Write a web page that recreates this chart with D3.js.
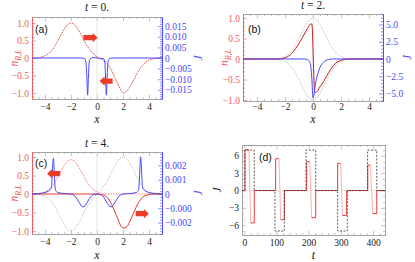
<!DOCTYPE html>
<html>
<head>
<meta charset="utf-8">
<script src="https://cdn.jsdelivr.net/npm/d3@7"></script>
<style>
body { margin: 0; background: #fff; }
text { font-family: "Liberation Serif", "Times New Roman", serif; }
</style>
</head>
<body>
<svg id="fig" width="415" height="262"></svg>
<script>
//////////////////////////////////////////////////////////////////////////////
// Data

var grid = [-5,-4.75,-4.5,-4.25,-4,-3.75,-3.5,-3.25,-3,-2.75,-2.5,-2.25,-2,-1.75,-1.5,-1.25,-1,-0.75,-0.5,-0.25,
            0,0.25,0.5,0.75,1,1.25,1.5,1.75,2,2.25,2.5,2.75,3,3.25,3.5,3.75,4,4.25,4.5,4.75,5];

// (a) t = 0
var aN = [0,0,0.01,0.03,0.06,0.12,0.21,0.34,0.5,0.68,0.84,0.96,1,0.96,0.84,0.68,0.5,0.34,0.21,0.11,
          0.03,-0.02,-0.06,-0.14,-0.27,-0.45,-0.66,-0.86,-1,-0.96,-0.84,-0.68,-0.5,-0.34,-0.21,-0.12,-0.06,-0.03,-0.01,0,0];
var aJx = [-5,-1.2,-0.95,-0.85,-0.78,-0.72,-0.66,-0.6,-0.5,-0.3,0,0.3,0.5,0.6,0.66,0.72,0.78,0.85,0.95,1.2,5];
var aJ  = [0,0,-0.0003,-0.002,-0.009,-0.0175,-0.009,-0.002,-0.0003,0.0002,0,-0.0002,-0.0003,-0.002,-0.009,-0.0175,-0.009,-0.002,-0.0003,0,0];

// (b) t = 2
var bNx = [-5,-2.5,-2.25,-2,-1.75,-1.5,-1.25,-1,-0.75,-0.5,-0.3,-0.15,-0.08,0.12,0.2,0.35,0.5,0.75,1,1.25,1.5,1.75,2,2.25,2.5,5];
var bN  = [0,0,0.01,0.03,0.07,0.14,0.25,0.38,0.53,0.68,0.8,0.86,0.85,-0.8,-0.82,-0.76,-0.68,-0.55,-0.4,-0.26,-0.14,-0.07,-0.03,-0.01,0,0];
var bGray = [0,0,0,0,0,0,0,0,0,0.005,0.01,0.03,0.06,0.12,0.21,0.34,0.5,0.68,0.84,0.96,
             1,0.96,0.84,0.68,0.5,0.34,0.21,0.12,0.06,0.03,0.01,0.005,0,0,0,0,0,0,0,0,0];
var bJx = [-5,-0.6,-0.4,-0.25,-0.15,-0.08,0,0.08,0.2,0.35,0.5,0.65,0.85,1.1,1.4,5];
var bJ  = [0,0,-0.1,-0.4,-1.2,-3,-5.6,-5.0,-3.3,-2.1,-1.2,-0.7,-0.3,-0.08,0,0];

// (c) t = 4
var cNleft  = [0,0.005,0.01,0.03,0.06,0.11,0.2,0.31,0.47,0.63,0.78,0.89,0.93,0.89,0.78,0.63,0.47,0.31,0.2,0.11,
               0.06,0.03,0.01,0,0,0,0,0,0,0,0,0,0,0,0,0,0,0,0,0,0];
var cNright = [0,0,0,0,0,0,0,0,0,0,0,0,0,0,0,0,0,0,0,0,
               0,-0.01,-0.03,-0.08,-0.2,-0.38,-0.58,-0.8,-0.92,-0.9,-0.76,-0.56,-0.36,-0.2,-0.09,-0.04,-0.01,0,0,0,0];
var cGray = [0,-0.005,-0.01,-0.03,-0.06,-0.12,-0.21,-0.34,-0.5,-0.68,-0.84,-0.96,-1,-0.96,-0.84,-0.68,-0.5,-0.34,-0.21,-0.09,
             0,0.09,0.21,0.34,0.5,0.68,0.84,0.96,1,0.96,0.84,0.68,0.5,0.34,0.21,0.12,0.06,0.03,0.01,0.005,0];
var cJx = [-5,-4.5,-4,-3.75,-3.6,-3.5,-3.45,-3.4,-3.35,-3.3,-3.25,-3.2,-3.1,-3,-2.5,-2,-1.75,-1.5,-1.3,-1.1,-0.9,-0.7,-0.5,-0.3,
           0,0.3,0.5,0.7,0.9,1.1,1.3,1.5,1.75,2,2.5,3,3.1,3.2,3.25,3.3,3.35,3.4,3.45,3.5,3.6,3.75,4,4.5,5];
var cJ  = [0,0.00003,0.0001,0.0002,0.0003,0.0005,0.0012,0.0022,0.0025,0.0018,0.0008,0.0003,0.00015,0.0001,0.00003,0,-0.0001,-0.0004,-0.0007,-0.0009,-0.0008,-0.0005,-0.0002,-0.00005,
           0,-0.00005,-0.0002,-0.0005,-0.0008,-0.0009,-0.0007,-0.0004,-0.0001,0,0.00003,0.0001,0.00015,0.0003,0.0008,0.0018,0.0026,0.0022,0.0012,0.0005,0.0003,0.0002,0.0001,0.00003,0];

// (d) J(t)
var dT  = [-8,0,2,2,14.5,19.7,31,31,97.4,97.4,107.8,113,124.4,124.4,193.8,193.8,203.1,209.3,221.8,221.8,
           290,290,299.5,304.7,318,318,383.4,383.4,391.7,399,411.4,411.4,440];
var dJ  = [0,0,0,7.05,7.05,-5.6,-5.6,0,0,5.5,5.5,-5.06,-5.06,0,0,5.0,5.0,-4.7,-4.7,0,
           0,4.7,4.7,-4.3,-4.3,0,0,4.4,4.4,-4.0,-4.0,0,0];
var dTd = [-8,2,2,31,31,95.3,95.3,124.4,124.4,191.7,191.7,221.8,221.8,290,290,320,320,383,383,411.4,411.4,440];
var dJd = [0,0,7,7,0,0,-7,-7,0,0,7,7,0,0,-7,-7,0,0,7,7,0,0];

// tick values and labels
var xTicks = [-4,-2,0,2,4];
var nTicks = [-1,-0.5,0,0.5,1];
var nLabels = ["\u22121.0","\u22120.5","0","0.5","1.0"];
var aJTicks = [-0.015,-0.01,-0.005,0,0.005,0.01,0.015];
var aJLabels = ["\u22120.015","\u22120.010","\u22120.005","0","0.005","0.010","0.015"];
var bJTicks = [-5,-2.5,0,2.5,5];
var bJLabels = ["\u22125.0","\u22122.5","0","2.5","5.0"];
var cJTicks = [-0.002,-0.001,0,0.001,0.002];
var cJLabels = ["\u22120.002","\u22120.000","0","0.001","0.002"];
var dJTicks = [-6,-3,0,3,6];
var dJLabels = ["\u22126","\u22123","0","3","6"];
var dTTicks = [0,100,200,300,400];

// arrows: [x from, x to, y, direction]
var aArrows = [[-1.05,0.05,0.58,1],[0.2,1.2,-0.66,-1]];
var cArrows = [[-3.84,-2.83,0.55,-1],[2.98,3.99,-0.53,1]];

//////////////////////////////////////////////////////////////////////////////

var RED = "#f05a5a", BLUE = "#4646ff", GRAY = "#a0a0a0";
var svg = d3.select("#fig");

function zip(xs, ys) { return xs.map(function(x, i) { return [x, ys[i]]; }); }

function ticksBetween(dom, step, skip) {
    var out = [];
    var s = Math.ceil(dom[0] / step - 1e-9), e = Math.floor(dom[1] / step + 1e-9);
    for (var i = s; i <= e; i++) {
        var v = +(i * step).toFixed(6);
        if (skip.every(function(k) { return Math.abs(k - v) > 1e-9; })) out.push(v);
    }
    return out;
}

function axisSet(g, axisFn, scale, major, labels, minorStep, color, labelColor, pos, noLabels) {
    var maj = axisFn(scale).tickValues(major).tickSize(-4).tickSizeOuter(0).tickPadding(pos.pad)
        .tickFormat(function(d, i) { return noLabels ? "" : labels[i]; });
    var mi = axisFn(scale).tickValues(ticksBetween(scale.domain(), minorStep, major))
        .tickSize(-2).tickSizeOuter(0).tickFormat("");
    var a = g.append("g").attr("transform", pos.t).call(maj);
    g.append("g").attr("transform", pos.t).call(mi);
    g.selectAll(".domain").attr("stroke", color).attr("stroke-width", 0.8);
    a.selectAll("text").attr("fill", labelColor).style("font-size", "9.5px")
        .style("font-family", "'Liberation Serif', serif");
    return a;
}

function createPanel(p) {
    var g = svg.append("g");
    var x = d3.scaleLinear().domain(p.x).range([p.box[0], p.box[2]]);
    var yL = d3.scaleLinear().domain(p.yL).range([p.box[3], p.box[1]]);
    var yR = p.yR ? d3.scaleLinear().domain(p.yR).range([p.box[3], p.box[1]]) : null;

    var ax = g.append("g");
    axisSet(ax, d3.axisTop, x, p.xTicks, [], p.xMinor, GRAY, "#222", {t: "translate(0," + p.box[1] + ")", pad: 3}, true);
    axisSet(ax, d3.axisBottom, x, p.xTicks, p.xTicks.map(function(v) { return d3.format("")(v); }), p.xMinor, GRAY, "#222",
            {t: "translate(0," + p.box[3] + ")", pad: p.xPad});
    var la = g.append("g");
    axisSet(la, d3.axisLeft, yL, p.lTicks, p.lLabels, p.lMinor, p.lColor, p.lText, {t: "translate(" + p.box[0] + ",0)", pad: 3});
    var ra = g.append("g");
    if (yR) {
        axisSet(ra, d3.axisRight, yR, p.rTicks, p.rLabels, p.rMinor, BLUE, BLUE, {t: "translate(" + p.box[2] + ",0)", pad: 3});
    } else {
        axisSet(ra, d3.axisRight, yL, p.lTicks, [], p.lMinor, GRAY, "#222", {t: "translate(" + p.box[2] + ",0)", pad: 3}, true);
    }
    ax.selectAll("line").attr("stroke", GRAY).attr("stroke-width", 0.6);
    la.selectAll("line").attr("stroke", p.lColor).attr("stroke-width", 0.6);
    ra.selectAll("line").attr("stroke", yR ? BLUE : GRAY).attr("stroke-width", 0.6);

    svg.append("clipPath").attr("id", "clip-" + p.id).append("rect")
        .attr("x", p.box[0]).attr("y", p.box[1])
        .attr("width", p.box[2] - p.box[0]).attr("height", p.box[3] - p.box[1]);
    var plot = g.append("g").attr("clip-path", "url(#clip-" + p.id + ")");

    // title
    if (p.title) {
        var t = svg.append("text").attr("x", (p.box[0] + p.box[2]) / 2).attr("y", p.titleY)
            .attr("text-anchor", "middle").style("font-size", "11.5px").attr("fill", "#222");
        t.append("tspan").style("font-style", "italic").text("t");
        t.append("tspan").text(" = " + p.title);
    }
    svg.append("text").attr("x", (p.box[0] + p.box[2]) / 2).attr("y", p.xLabelY)
        .attr("text-anchor", "middle").style("font-size", "12px").style("font-style", "italic")
        .attr("fill", "#222").text(p.xLabel);

    // y labels
    var yl = svg.append("text")
        .attr("transform", "translate(" + p.yLabelX + "," + (p.box[1] + p.box[3]) / 2 + ") rotate(-90)")
        .attr("text-anchor", "middle").style("font-size", "11.5px").style("font-style", "italic")
        .attr("fill", p.yLabelColor);
    yl.append("tspan").text(p.yLabel);
    if (p.yLabelSub) yl.append("tspan").attr("dy", 2.5).style("font-size", "8px").text(p.yLabelSub);
    if (yR) {
        svg.append("text")
            .attr("transform", "translate(" + p.jLabelX + "," + (p.box[1] + p.box[3]) / 2 + ") rotate(-90)")
            .attr("text-anchor", "middle").style("font-size", "11.5px").style("font-style", "italic")
            .attr("fill", BLUE).text("J");
    }

    // panel letter
    svg.append("text").attr("x", p.letterX).attr("y", p.letterY)
        .style("font-family", "'Liberation Sans', Arial, sans-serif").style("font-size", "10.5px")
        .attr("fill", "#111").text(p.letter);

    return {plot: plot, x: x, yL: yL, yR: yR};
}

function drawLine(P, data, y, color, width, dash, curve) {
    P.plot.append("path").datum(data)
        .attr("fill", "none").attr("stroke", color).attr("stroke-width", width)
        .attr("stroke-dasharray", dash || null)
        .attr("d", d3.line().x(function(d) { return P.x(d[0]); }).y(function(d) { return y(d[1]); })
            .curve(curve || d3.curveMonotoneX));
}

function zeroLine(P) {
    P.plot.append("line").attr("x1", P.x(0)).attr("x2", P.x(0))
        .attr("y1", P.yL.range()[0]).attr("y2", P.yL.range()[1])
        .attr("stroke", "#d8d8d8").attr("stroke-width", 0.6);
}

function drawArrows(P, list) {
    list.forEach(function(a) {
        var x0 = P.x(a[0]), x1 = P.x(a[1]), y = P.yL(a[2]), dir = a[3];
        var tail = dir > 0 ? x0 : x1, tip = dir > 0 ? x1 : x0, hb = tip - dir * 5;
        var pts = [[tail, y - 2.6], [hb, y - 2.6], [hb, y - 4.6], [tip, y], [hb, y + 4.6], [hb, y + 2.6], [tail, y + 2.6]];
        P.plot.append("polygon").attr("points", pts.map(function(q) { return q.join(","); }).join(" "))
            .attr("fill", "#ec3b26");
    });
}

//////////////////////////////////////////////////////////////////////////////

var common = {x: [-5, 5], xTicks: xTicks, xMinor: 0.5, lTicks: nTicks, lLabels: nLabels, lMinor: 0.1,
              lColor: RED, lText: RED, xLabel: "x", yLabel: "n", yLabelSub: "R,L", yLabelColor: RED};

var A = createPanel(Object.assign({}, common, {id: "a", box: [32, 17, 162, 99], yL: [-1.171, 1.171], yR: [-0.0193, 0.0193],
    rTicks: aJTicks, rLabels: aJLabels, rMinor: 0.001, title: "0.", titleY: 11, xLabelY: 123, xPad: 4,
    yLabelX: 18, jLabelX: 202, letter: "(a)", letterX: 35, letterY: 33}));
zeroLine(A);
drawLine(A, zip(grid, aN), A.yL, "#d83a3a", 0.9, "1.6,1");
drawLine(A, zip(aJx, aJ), A.yR, BLUE, 1);
drawArrows(A, aArrows);

var B = createPanel(Object.assign({}, common, {id: "b", box: [243, 14, 383, 101], yL: [-1.024, 1.098], yR: [-6.09, 6.52],
    rTicks: bJTicks, rLabels: bJLabels, rMinor: 0.5, title: "2.", titleY: 9, xLabelY: 123, xPad: 2,
    yLabelX: 228, jLabelX: 411, letter: "(b)", letterX: 248, letterY: 33}));
zeroLine(B);
drawLine(B, zip(grid, bGray), B.yL, "#9a9a9a", 0.8, "1,1.4");
drawLine(B, zip(grid, bGray.map(function(v) { return -v; })), B.yL, "#9a9a9a", 0.8, "1,1.4");
drawLine(B, zip(bNx, bN), B.yL, "#cc1818", 1);
drawLine(B, zip(bJx, bJ), B.yR, BLUE, 1);

var C = createPanel(Object.assign({}, common, {id: "c", box: [32, 152, 162, 234], yL: [-1.08, 1.135], yR: [-0.0028, 0.00294],
    rTicks: cJTicks, rLabels: cJLabels, rMinor: 0.0002, title: "4.", titleY: 147, xLabelY: 259, xPad: 4,
    yLabelX: 18, jLabelX: 202, letter: "(c)", letterX: 35, letterY: 167}));
zeroLine(C);
drawLine(C, zip(grid, cGray), C.yL, "#9a9a9a", 0.8, "1,1.4");
drawLine(C, zip(grid, cNleft), C.yL, "#f07a7a", 0.9, "1.6,1");
drawLine(C, zip(grid, cNright), C.yL, "#ee3030", 1);
drawLine(C, zip(cJx, cJ), C.yR, BLUE, 1);
drawArrows(C, cArrows);

var D = createPanel({id: "d", box: [242, 145, 385, 235], x: [-7.1, 437], xTicks: dTTicks, xMinor: 20, xPad: 4,
    yL: [-7.69, 7.88], lTicks: dJTicks, lLabels: dJLabels, lMinor: 1, lColor: GRAY, lText: "#222",
    xLabel: "t", xLabelY: 259, yLabel: "J", yLabelColor: "#222", yLabelX: 221,
    letter: "(d)", letterX: 259, letterY: 161});
D.plot.append("line").attr("x1", D.x.range()[0]).attr("x2", D.x.range()[1])
    .attr("y1", D.yL(0)).attr("y2", D.yL(0)).attr("stroke", "#d8d8d8").attr("stroke-width", 0.6);
var dPts = zip(dT, dJ);
D.plot.selectAll("line.seg").data(d3.pairs(dPts)).enter().append("line").attr("class", "seg")
    .attr("x1", function(d) { return D.x(d[0][0]); }).attr("y1", function(d) { return D.yL(d[0][1]); })
    .attr("x2", function(d) { return D.x(d[1][0]); }).attr("y2", function(d) { return D.yL(d[1][1]); })
    .attr("stroke", function(d) { return (d[0][1] > 0 && d[1][1] < 0) ? "#f7b4b4" : "#e83a3a"; })
    .attr("stroke-width", 1);
drawLine(D, zip(dTd, dJd), D.yL, "#333", 0.8, "2,1.5", d3.curveLinear);
</script>
</body>
</html>
